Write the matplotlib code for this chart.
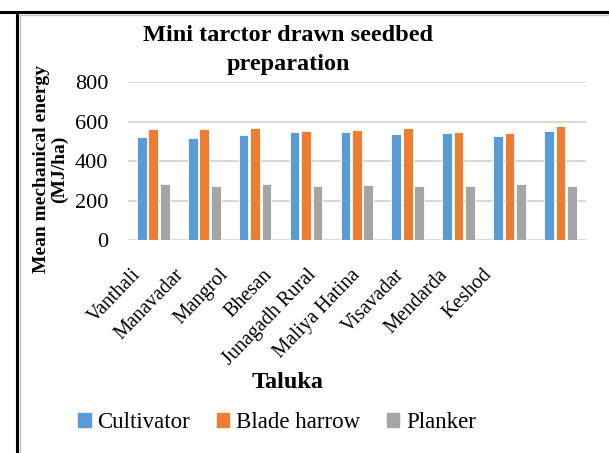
import matplotlib
matplotlib.use("Agg")
import matplotlib.pyplot as plt
import numpy as np
from matplotlib.lines import Line2D

talukas = ["Vanthali", "Manavadar", "Mangrol", "Bhesan", "Junagadh Rural",
           "Maliya Hatina", "Visavadar", "Mendarda", "Keshod"]
cultivator = [520, 517, 534, 549, 547, 537, 544, 527, 552]
blade_harrow = [563, 563, 566, 553, 559, 566, 549, 544, 576]
planker = [286, 276, 286, 273, 280, 273, 276, 286, 273]
series_names = ["Cultivator", "Blade harrow", "Planker"]
colors = ["#5B9BD5", "#ED7D31", "#A5A5A5"]

plt.rcParams['font.family'] = ['Liberation Serif', 'DejaVu Serif']

fig = plt.figure(figsize=(6.09, 4.53), dpi=100)
ax = fig.add_axes([0.210, 0.470, 0.752, 0.349])

x = np.arange(len(talukas))
w = 0.19
step = 0.225
for i, (vals, name, c) in enumerate(zip([cultivator, blade_harrow, planker], series_names, colors)):
    ax.bar(x + (i - 1) * step, vals, width=w, color=c, edgecolor='white', linewidth=0.6,
           label=name, zorder=3)

ax.set_xlim(-0.5, len(talukas) - 0.5)
ax.set_ylim(0, 800)
ax.set_yticks([0, 200, 400, 600, 800])
ax.yaxis.grid(True, color='#D9D9D9', linewidth=1.5, zorder=0)
ax.set_axisbelow(True)
for s in ax.spines.values():
    s.set_visible(False)
ax.tick_params(axis='both', length=0, colors='black')
ax.tick_params(axis='y', labelsize=16, pad=14)
# category labels are spaced a bit tighter than the bar groups in the reference
label_pos = x * 0.8627 - 0.31
ax.set_xticks(label_pos)
ax.set_xticklabels(talukas, rotation=46, ha='right', va='center', rotation_mode='anchor',
                   fontsize=14.5)
ax.tick_params(axis='x', pad=23)

ax.set_ylabel("Mean mechanical energy\n(MJ/ha)", fontsize=14, fontweight='bold', linespacing=1.05)
ax.yaxis.set_label_coords(-0.131, 0.45)

fig.text(288 / 609, 1 - 50 / 453, "Mini tarctor drawn seedbed\npreparation", ha='center', va='center',
         fontsize=17.5, fontweight='bold', linespacing=1.55)

fig.text(288 / 609, 1 - 382 / 453, "Taluka", ha='center', va='center', fontsize=17.5, fontweight='bold')

handles = [plt.Rectangle((0, 0), 1, 1, color=c) for c in colors]
fig.legend(handles, series_names, loc='center', bbox_to_anchor=(277 / 609, 1 - 423 / 453), ncol=3,
           frameon=False, fontsize=16.5, handlelength=0.55, handleheight=0.55,
           handletextpad=0.3, columnspacing=1.15, borderpad=0)

# frame lines
fig.add_artist(Line2D([0, 1], [1 - 12 / 453, 1 - 12 / 453], color='black', linewidth=2.2,
                      transform=fig.transFigure))
fig.add_artist(Line2D([17 / 609, 17 / 609], [0, 1 - 12 / 453], color='black', linewidth=2.2,
                      transform=fig.transFigure))
fig.add_artist(Line2D([19.5 / 609, 1], [1 - 14.5 / 453, 1 - 14.5 / 453], color='#BFBFBF',
                      linewidth=1, transform=fig.transFigure))
fig.add_artist(Line2D([19.5 / 609, 19.5 / 609], [0, 1 - 14.5 / 453], color='#BFBFBF',
                      linewidth=1, transform=fig.transFigure))

fig.savefig("out.png", dpi=100)
